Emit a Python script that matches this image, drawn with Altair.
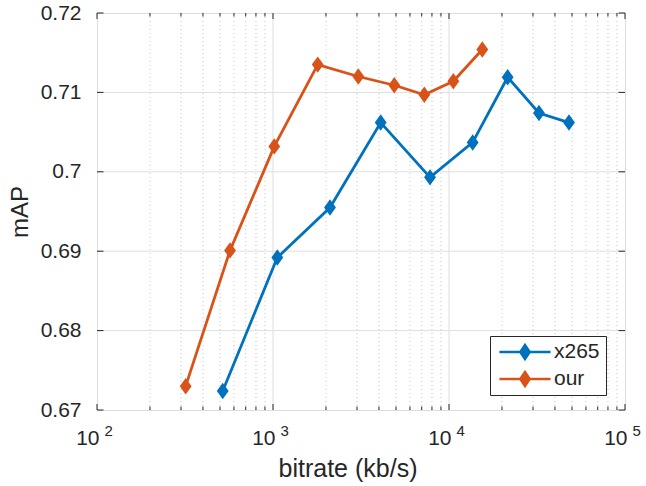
import altair as alt
import pandas as pd

# ---- data ----
series_names = ["x265", "our"]
series_colors = ["#0072BD", "#D95319"]

x265_rate = [518, 1058, 2108, 4092, 7800, 13630, 21540, 32450, 48060]
x265_map = [0.6724, 0.6892, 0.6955, 0.7062, 0.6993, 0.7037, 0.7119, 0.7074, 0.7062]
our_rate = [319, 570, 1017, 1795, 3053, 4889, 7239, 10584, 15460]
our_map = [0.6730, 0.6901, 0.7032, 0.7135, 0.7120, 0.7109, 0.7097, 0.7114, 0.7154]

x_decades = [100, 1000, 10000, 100000]
x_exponents = ["2", "3", "4", "5"]
x_major_grid = [1000, 10000]
x_minor = [200, 300, 400, 500, 600, 700, 800, 900,
           2000, 3000, 4000, 5000, 6000, 7000, 8000, 9000,
           20000, 30000, 40000, 50000, 60000, 70000, 80000, 90000]
y_ticks = [0.67, 0.68, 0.69, 0.70, 0.71, 0.72]
y_grid = [0.68, 0.69, 0.70, 0.71]

# ---- tables ----
rows = []
for i, (r, m) in enumerate(zip(x265_rate, x265_map)):
    rows.append({"series": "x265", "rate": r, "map": m, "idx": i})
for i, (r, m) in enumerate(zip(our_rate, our_map)):
    rows.append({"series": "our", "rate": r, "map": m, "idx": i})
df = pd.DataFrame(rows)

W, H = 528, 397
FONT = "Liberation Sans"
TXT = "#262626"

DIAMOND = "M0,-1L0.72,0L0,1L-0.72,0Z"
LEG_SYM = ("M-0.93,0H0.93 "
           "M0,-0.245L0.165,0L0,0.245L-0.165,0Z "
           "M0,-0.16L0.11,0L0,0.16L-0.11,0Z "
           "M0,-0.08L0.055,0L0,0.08L-0.055,0Z "
           "M0,-0.245V0.245")

xscale = alt.Scale(type="log", domain=[100, 100000], nice=False)
yscale = alt.Scale(domain=[0.67, 0.72], zero=False, nice=False)
cscale = alt.Scale(domain=series_names, range=series_colors)

X_AXIS = alt.Axis(
    title="bitrate (kb/s)", labels=False, ticks=False, domain=False, grid=False,
    titleFont=FONT, titleFontSize=25, titleFontWeight="normal", titleColor=TXT,
    titleX=250.5, titleY=66, titleBaseline="alphabetic", titleAlign="center")
Y_AXIS = alt.Axis(
    title="mAP", values=y_ticks, format="~g", ticks=False, tickSize=0,
    domain=False, grid=False,
    labelFont=FONT, labelFontSize=21, labelColor=TXT, labelPadding=16,
    titleFont=FONT, titleFontSize=24, titleFontWeight="normal", titleColor=TXT,
    titleX=-70, titleY=198.5, titleBaseline="alphabetic", titleAlign="center")


def X(field):
    return alt.X(field, scale=xscale, axis=X_AXIS)


def Y(field):
    return alt.Y(field, scale=yscale, axis=Y_AXIS)


grid_major_x = alt.Chart(pd.DataFrame({"v": x_major_grid})).mark_rule(
    color="#dfdfdf", strokeWidth=1).encode(x=X("v:Q"))
grid_minor_x = alt.Chart(pd.DataFrame({"v": x_minor})).mark_rule(
    color="#c4c4c4", strokeWidth=1, strokeDash=[1, 3]).encode(x=X("v:Q"))
grid_y = alt.Chart(pd.DataFrame({"v": y_grid})).mark_rule(
    color="#dfdfdf", strokeWidth=1).encode(y=Y("v:Q"))

maj_df = pd.DataFrame({"v": x_decades})
min_df = pd.DataFrame({"v": x_minor})
yt_df = pd.DataFrame({"v": y_ticks})

tick_bot_major = alt.Chart(maj_df).mark_rule(color=TXT).encode(
    x=X("v:Q"), y=alt.value(H), y2=alt.value(H - 6))
tick_top_major = alt.Chart(maj_df).mark_rule(color=TXT).encode(
    x=X("v:Q"), y=alt.value(0), y2=alt.value(6))
tick_bot_minor = alt.Chart(min_df).mark_rule(color=TXT).encode(
    x=X("v:Q"), y=alt.value(H), y2=alt.value(H - 3.5))
tick_top_minor = alt.Chart(min_df).mark_rule(color=TXT).encode(
    x=X("v:Q"), y=alt.value(0), y2=alt.value(3.5))
tick_left = alt.Chart(yt_df).mark_rule(color=TXT).encode(
    y=Y("v:Q"), x=alt.value(0), x2=alt.value(6.5))
tick_right = alt.Chart(yt_df).mark_rule(color=TXT).encode(
    y=Y("v:Q"), x=alt.value(W), x2=alt.value(W - 6.5))

legend = alt.Legend(
    title=None, orient="none", legendX=393, legendY=323,
    strokeColor=TXT, fillColor="white", padding=6, cornerRadius=0,
    symbolType=LEG_SYM, symbolSize=3025, symbolStrokeWidth=2.7,
    labelOffset=0, labelFont=FONT, labelFontSize=21, labelColor=TXT,
    clipHeight=20, rowPadding=6,
    labelExpr="datum.label + '\u00a0'",
)

line = alt.Chart(df).mark_line(strokeWidth=2.8).encode(
    x=X("rate:Q"),
    y=Y("map:Q"),
    color=alt.Color("series:N", scale=cscale, legend=legend),
    order="idx:Q",
)

pts = alt.Chart(df).mark_point(filled=True, shape=DIAMOND, size=270, opacity=1,
                               strokeWidth=0).encode(
    x=X("rate:Q"), y=Y("map:Q"),
    color=alt.Color("series:N", scale=cscale, legend=legend),
)

xl_df = pd.DataFrame({"v": x_decades, "e": x_exponents})
base10 = alt.Chart(xl_df).mark_text(
    text="10", align="right", baseline="alphabetic", dx=2.5,
    font=FONT, fontSize=21, color=TXT).encode(x=X("v:Q"), y=alt.value(431.5))
expo = alt.Chart(xl_df).mark_text(
    align="left", baseline="alphabetic", dx=7.5,
    font=FONT, fontSize=15, color=TXT).encode(
    x=X("v:Q"), y=alt.value(422.7), text="e:N")

chart = alt.layer(
    grid_major_x, grid_minor_x, grid_y,
    line, pts,
    tick_bot_major, tick_top_major, tick_bot_minor, tick_top_minor,
    tick_left, tick_right,
    base10, expo,
).properties(
    width=W, height=H,
    padding={"left": 97, "top": 13, "right": 21, "bottom": 76},
    autosize=alt.AutoSizeParams(type="none"),
).configure_view(stroke=TXT, strokeWidth=1).configure(background="white")

chart.save("out.html", embed_options={"renderer": "svg", "actions": False})
